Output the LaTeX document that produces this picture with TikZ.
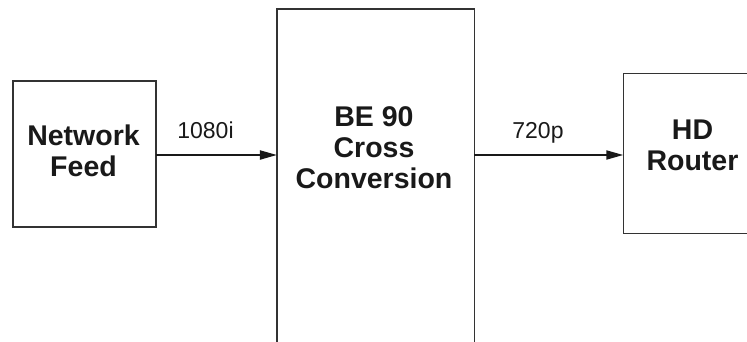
\documentclass[tikz,border=0pt]{standalone}
\usepackage{fontspec}
\setmainfont{Liberation Sans}
\usetikzlibrary{arrows.meta}
\begin{document}
\begin{tikzpicture}[x=1pt,y=-1pt,
  blockbox/.style={draw=black!80,line width=1.4pt,fill=none,inner sep=0pt,outer sep=0pt},
  blocktext/.style={font=\fontsize{28.5}{31}\selectfont\bfseries,align=center,inner sep=0pt,text=black!90},
  siglabel/.style={font=\fontsize{23}{25}\selectfont,inner sep=0pt,anchor=base,text=black!90},
  sigarrow/.style={line width=2pt,black!90,-{Triangle[length=17pt,width=9pt]}}]
\clip (0,0) rectangle (747,341);
\useasboundingbox (0,0) rectangle (747,341);
\node[blockbox,minimum width=143pt,minimum height=146pt] (feed) at (84.5,154) {};
\node[blockbox,minimum width=197.5pt,minimum height=380pt] (conv) at (375.7,199) {};
\node[blockbox,minimum width=138.4pt,minimum height=160pt] (router) at (692.5,153.3) {};
\node[blocktext] (feedtext) at (83.5,151) {Network\\Feed};
\node[blocktext] (convtext) at (374,147.5) {BE 90\\Cross\\Conversion};
\node[blocktext] (routertext) at (692.5,145) {HD\\Router};
\coordinate (a1s) at (feed.east |- 0,155);
\coordinate (a1e) at (conv.west |- 0,155);
\coordinate (a2s) at (conv.east |- 0,155);
\coordinate (a2e) at (router.west |- 0,155);
\draw[sigarrow] (a1s) -- (a1e);
\draw[sigarrow] (a2s) -- (a2e);
\node[siglabel] (lab1) at (205.5,138) {1080i};
\node[siglabel] (lab2) at (538,138) {720p};
\end{tikzpicture}
\end{document}
